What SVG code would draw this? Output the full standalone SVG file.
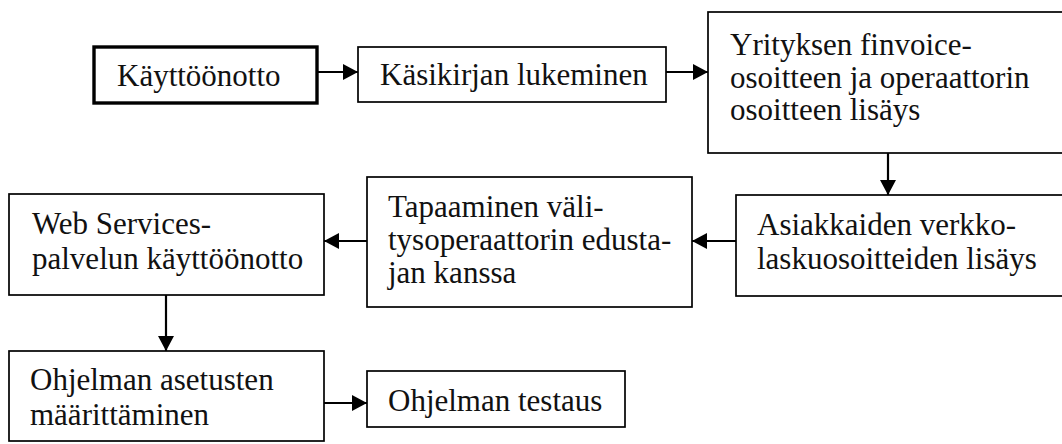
<svg xmlns="http://www.w3.org/2000/svg" width="1062" height="444" viewBox="0 0 1062 444">
<style>
.box{fill:#fff;stroke:#000;stroke-width:1.7}
.thick{stroke-width:3.4}
.t{font-family:"Liberation Serif","Times New Roman",serif;font-size:31px;fill:#111}
.c{stroke:#000;stroke-width:2.2;fill:none;marker-end:url(#ah)}
</style>
<defs>
<marker id="ah" markerUnits="userSpaceOnUse" markerWidth="15" markerHeight="16" refX="15" refY="8" orient="auto">
<path d="M0,0 L15,8 L0,16 z" fill="#000"/>
</marker>
</defs>
<rect width="1062" height="444" fill="#fff"/>
<g id="connectors">
<line class="c" x1="317" y1="72" x2="358" y2="72"/>
<line class="c" x1="666" y1="72" x2="708" y2="72"/>
<line class="c" x1="888" y1="153" x2="888" y2="195"/>
<line class="c" x1="736" y1="241" x2="692" y2="241"/>
<line class="c" x1="367" y1="241" x2="324" y2="241"/>
<line class="c" x1="166" y1="295" x2="166" y2="351"/>
<line class="c" x1="324" y1="403" x2="367" y2="403"/>
</g>
<g id="n1">
<rect class="box thick" x="94" y="47" width="223" height="56"/>
<text class="t" x="117" y="86">Käyttöönotto</text>
</g>
<g id="n2">
<rect class="box" x="358" y="47" width="308" height="55"/>
<text class="t" x="380" y="85">Käsikirjan lukeminen</text>
</g>
<g id="n3">
<rect class="box" x="708" y="12" width="362" height="141"/>
<text class="t" x="730" y="55">Yrityksen finvoice-</text>
<text class="t" x="730" y="88">osoitteen ja operaattorin</text>
<text class="t" x="730" y="120">osoitteen lisäys</text>
</g>
<g id="n4">
<rect class="box" x="736" y="195" width="334" height="101"/>
<text class="t" x="757" y="235">Asiakkaiden verkko-</text>
<text class="t" x="757" y="269">laskuosoitteiden lisäys</text>
</g>
<g id="n5">
<rect class="box" x="367" y="177" width="325" height="130"/>
<text class="t" x="388" y="217">Tapaaminen väli-</text>
<text class="t" x="388" y="250">tysoperaattorin edusta-</text>
<text class="t" x="388" y="283">jan kanssa</text>
</g>
<g id="n6">
<rect class="box" x="9" y="194" width="315" height="101"/>
<text class="t" x="32" y="234">Web Services-</text>
<text class="t" x="32" y="269">palvelun käyttöönotto</text>
</g>
<g id="n7">
<rect class="box" x="9" y="351" width="315" height="90"/>
<text class="t" x="30" y="390">Ohjelman asetusten</text>
<text class="t" x="30" y="425">määrittäminen</text>
</g>
<g id="n8">
<rect class="box" x="367" y="371" width="258" height="56"/>
<text class="t" x="388" y="411">Ohjelman testaus</text>
</g>
</svg>
